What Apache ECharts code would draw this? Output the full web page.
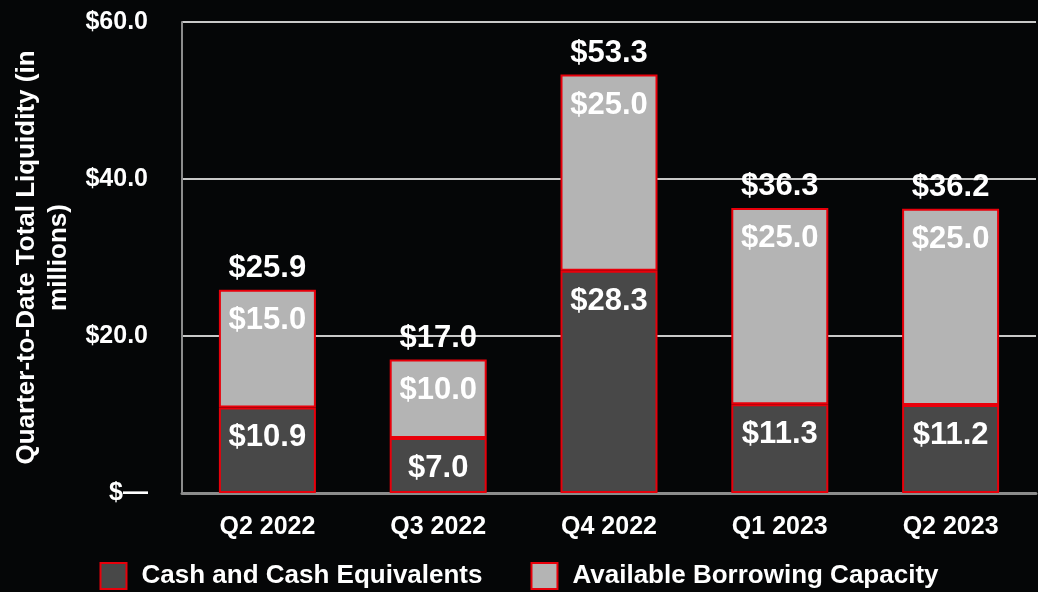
<!DOCTYPE html>
<html>
<head>
<meta charset="utf-8">
<script src="https://cdn.jsdelivr.net/npm/echarts@6/dist/echarts.min.js"></script>
<style>
html,body{margin:0;padding:0;background:#050607;}
#c{width:1038px;height:592px;}
</style>
</head>
<body>
<div id="c"></div>
<script>
const categories = ['Q2 2022', 'Q3 2022', 'Q4 2022', 'Q1 2023', 'Q2 2023'];
const cashValues = [10.9, 7.0, 28.3, 11.3, 11.2];
const borrowingValues = [15.0, 10.0, 25.0, 25.0, 25.0];
const totalValues = [25.9, 17.0, 53.3, 36.3, 36.2];
const yTicks = [0, 20, 40, 60];
const seriesNames = ['Cash and Cash Equivalents', 'Available Borrowing Capacity'];
const axisTitle = 'Quarter-to-Date Total Liquidity (in\nmillions)';

const FONT = "'Liberation Sans', Arial, sans-serif";
const chart = echarts.init(document.getElementById('c'));
const money = v => '$' + Number(v).toFixed(1);
const insideLabel = {
  show: true, position: 'insideTop', distance: 15,
  color: '#ffffff', fontWeight: 'bold', fontSize: 31, fontFamily: FONT,
  formatter: p => money(p.value)
};
chart.setOption({
  backgroundColor: '#050607',
  animation: false,
  textStyle: { fontFamily: FONT },
  grid: { left: 182, right: 2, top: 22, bottom: 99 },
  legend: {
    data: seriesNames,
    top: 562,
    left: 'center',
    padding: 0,
    icon: 'rect',
    itemWidth: 26, itemHeight: 26,
    itemGap: 48,
    textStyle: { color: '#ffffff', fontWeight: 'bold', fontSize: 26, fontFamily: FONT, padding: [0, 0, 0, 10] }
  },
  xAxis: {
    type: 'category',
    data: categories,
    axisLine: { show: true, lineStyle: { color: '#8c8c8c', width: 3 } },
    axisTick: { show: false },
    axisLabel: { color: '#ffffff', fontWeight: 'bold', fontSize: 25, fontFamily: FONT, margin: 22 }
  },
  yAxis: {
    type: 'value',
    min: yTicks[0], max: yTicks[yTicks.length - 1], interval: 20,
    name: axisTitle,
    nameLocation: 'middle',
    nameGap: 107,
    nameRotate: 90,
    nameTextStyle: { color: '#ffffff', fontWeight: 'bold', fontSize: 26, fontFamily: FONT, lineHeight: 32 },
    axisLine: { show: true, lineStyle: { color: '#8c8c8c', width: 2 } },
    axisTick: { show: false },
    splitLine: { show: true, lineStyle: { color: '#c8c8c8', width: 2 } },
    axisLabel: {
      color: '#ffffff', fontWeight: 'bold', fontSize: 25, fontFamily: FONT, margin: 34,
      formatter: v => v === 0 ? '$—' : money(v)
    }
  },
  series: [
    {
      name: seriesNames[0], type: 'bar', stack: 'total', barWidth: 97,
      data: cashValues,
      itemStyle: { color: '#484848', borderColor: '#e8000b', borderWidth: 2 },
      label: insideLabel
    },
    {
      name: seriesNames[1], type: 'bar', stack: 'total', barWidth: 97,
      data: borrowingValues,
      itemStyle: { color: '#b4b4b4', borderColor: '#e8000b', borderWidth: 2 },
      label: insideLabel
    },
    {
      name: 'Total', type: 'scatter', data: totalValues, symbolSize: 0,
      itemStyle: { opacity: 1 },
      label: {
        show: true, position: 'top', distance: 6,
        color: '#ffffff', fontWeight: 'bold', fontSize: 31, fontFamily: FONT,
        formatter: p => money(p.value)
      },
      z: 5
    }
  ]
});
</script>
</body>
</html>
